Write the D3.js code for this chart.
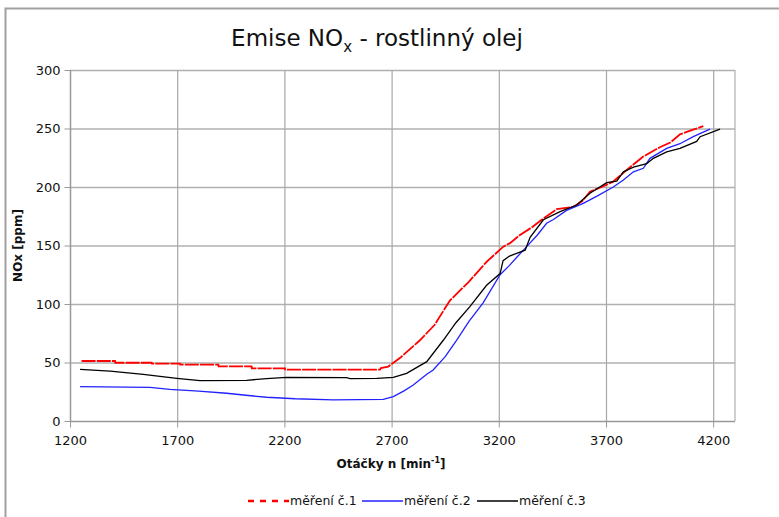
<!DOCTYPE html>
<html>
<head>
<meta charset="utf-8">
<script src="https://d3js.org/d3.v7.min.js"></script>
<style>
  body { margin: 0; background: #fff; }
  text { font-family: "DejaVu Sans", Verdana, sans-serif; }
</style>
</head>
<body>
<div id="chart"></div>
<script>
// (rpm, ppm)
var rpm1 = [1254, 1410, 1411, 1581, 1582, 1713, 1714, 1892, 1893, 2047, 2048, 2203, 2204, 2646, 2650, 2684, 2740, 2832, 2900, 2972, 3060, 3143, 3221, 3252, 3299, 3350, 3400, 3470, 3547, 3590, 3625, 3680, 3733, 3812, 3874, 3951, 4000, 4045, 4107, 4154];
var nox1 = [51.3, 51.3, 49.8, 49.8, 49, 49, 48.1, 48.1, 46.7, 46.7, 45, 45, 43.9, 43.9, 45.3, 46.5, 54, 69, 82, 103, 119, 136, 149, 152, 159, 165, 172, 181, 183, 188, 196, 200, 204.6, 217, 226, 234, 238, 245, 249, 252];

var rpm2 = [1247, 1573, 1666, 1800, 1931, 2020, 2117, 2250, 2428, 2661, 2708, 2760, 2801, 2864, 2894, 2950, 3003, 3060, 3127, 3206, 3250, 3284, 3330, 3380, 3423, 3453, 3516, 3594, 3656, 3734, 3781, 3828, 3874, 3905, 3983, 4045, 4107, 4185];
var nox2 = [29.3, 28.8, 27, 25.5, 23.7, 22, 20.3, 19, 18, 18.5, 20.8, 26, 30.8, 40, 43.6, 55, 69, 85, 101, 125, 133, 140, 149, 159, 169, 172, 180, 186, 192, 200, 206, 213, 216, 224.5, 233, 237, 243, 249.5];

var rpm3 = [1247, 1387, 1542, 1698, 1806, 2024, 2117, 2210, 2490, 2506, 2631, 2708, 2770, 2864, 2941, 3000, 3066, 3143, 3206, 3220, 3250, 3323, 3346, 3408, 3486, 3563, 3625, 3703, 3750, 3781, 3828, 3890, 3921, 3983, 4045, 4123, 4139, 4232];
var nox3 = [44.2, 42.7, 39.9, 36.5, 34.5, 34.8, 36.2, 37.3, 37, 36.2, 36.5, 37.3, 40.7, 50.7, 69, 84, 98, 116, 126, 137, 141, 146, 157, 172, 179, 184.6, 194.6, 203.7, 205, 213, 217, 220, 224.5, 230, 233, 239, 243, 249.5];

var seriesNames = ["měření č.1", "měření č.2", "měření č.3"];
var xTicks = [1200, 1700, 2200, 2700, 3200, 3700, 4200];
var yTicks = [0, 50, 100, 150, 200, 250, 300];

var W = 779, H = 517;
var svg = d3.select("#chart").append("svg")
    .attr("width", W).attr("height", H);

// outer chart frame
svg.append("rect")
    .attr("x", 5.5).attr("y", 8.5)
    .attr("width", 800).attr("height", 600)
    .attr("fill", "none").attr("stroke", "#a0a0a0").attr("stroke-width", 2);

var pLeft = 70, pRight = 735, pTop = 70, pBottom = 421;

var x = d3.scaleLinear().domain([1200, 1200 + (pRight - pLeft) / 107.2 * 500]).range([pLeft, pRight]);
var y = d3.scaleLinear().domain([0, 300]).range([pBottom, pTop]);

// gridlines
svg.append("g").selectAll("line").data(yTicks.slice(1)).enter().append("line")
    .attr("x1", pLeft).attr("x2", pRight)
    .attr("y1", d => y(d) + 0.5).attr("y2", d => y(d) + 0.5)
    .attr("stroke", "#b0b0b0").attr("stroke-width", 1.5);
svg.append("g").selectAll("line").data(xTicks.slice(1)).enter().append("line")
    .attr("x1", d => x(d) + 0.5).attr("x2", d => x(d) + 0.5)
    .attr("y1", pTop).attr("y2", pBottom)
    .attr("stroke", "#a8a8a8").attr("stroke-width", 1.2);
svg.append("line")
    .attr("x1", pRight).attr("x2", pRight).attr("y1", pTop).attr("y2", pBottom)
    .attr("stroke", "#b0b0b0").attr("stroke-width", 1.2);

// axes
var xAxis = svg.append("g")
    .attr("transform", "translate(0," + (pBottom + 0.5) + ")")
    .call(d3.axisBottom(x).tickValues(xTicks).tickSize(6).tickPadding(8).tickFormat(d3.format("d")));
var yAxis = svg.append("g")
    .attr("transform", "translate(" + (pLeft + 0.5) + ",0)")
    .call(d3.axisLeft(y).tickValues(yTicks).tickSize(6).tickPadding(4));
[xAxis, yAxis].forEach(function(a) {
    a.select(".domain").attr("stroke", "#999").attr("stroke-width", 1.5);
    a.selectAll(".tick line").attr("stroke", "#999");
    a.selectAll(".tick text").attr("fill", "#111")
        .style("font-family", "DejaVu Sans, sans-serif").style("font-size", "13px");
});
xAxis.select(".domain").attr("d", "M" + pLeft + ",0H" + pRight);
yAxis.select(".domain").attr("d", "M0," + pTop + "V" + pBottom);

// series lines
var line = d3.line().x(d => x(d[0])).y(d => y(d[1]));
var series = [
    { data: d3.zip(rpm1, nox1), color: "#ff0000", width: 1.8, dash: "14,1.2" },
    { data: d3.zip(rpm2, nox2), color: "#2222ff", width: 1.3, dash: null },
    { data: d3.zip(rpm3, nox3), color: "#000000", width: 1.3, dash: null }
];
series.forEach(function(s) {
    svg.append("path")
        .attr("d", line(s.data))
        .attr("fill", "none")
        .attr("stroke", s.color)
        .attr("stroke-width", s.width)
        .attr("stroke-dasharray", s.dash);
});

// title
var title = svg.append("text")
    .attr("x", 377).attr("y", 46)
    .attr("text-anchor", "middle")
    .style("font-size", "23px")
    .attr("fill", "#111");
title.append("tspan").text("Emise NO");
title.append("tspan").attr("dy", 6).style("font-size", "15px").text("x");
title.append("tspan").attr("dy", -6).text(" - rostlinný olej");

// axis titles
var xt = svg.append("text")
    .attr("x", 391).attr("y", 468)
    .attr("text-anchor", "middle")
    .style("font-size", "12px").style("font-weight", "bold")
    .attr("fill", "#111");
xt.append("tspan").text("Otáčky n [min");
xt.append("tspan").attr("dy", -5).style("font-size", "8px").text("-1");
xt.append("tspan").attr("dy", 5).text("]");

svg.append("text")
    .attr("transform", "translate(22," + ((pTop + pBottom) / 2) + ") rotate(-90)")
    .attr("text-anchor", "middle")
    .style("font-size", "12px").style("font-weight", "bold")
    .attr("fill", "#111")
    .text("NOx [ppm]");

// legend
var legX = [248, 362, 477];
var legend = svg.append("g");
seriesNames.forEach(function(name, i) {
    var s = series[i];
    legend.append("line")
        .attr("x1", legX[i]).attr("x2", legX[i] + 41)
        .attr("y1", 501).attr("y2", 501)
        .attr("stroke", s.color)
        .attr("stroke-width", i === 0 ? 2.5 : 1.3)
        .attr("stroke-dasharray", i === 0 ? "6,6" : null);
    legend.append("text")
        .attr("x", legX[i] + 42).attr("y", 505)
        .style("font-size", "12.5px")
        .attr("fill", "#111")
        .text(name);
});
</script>
</body>
</html>
